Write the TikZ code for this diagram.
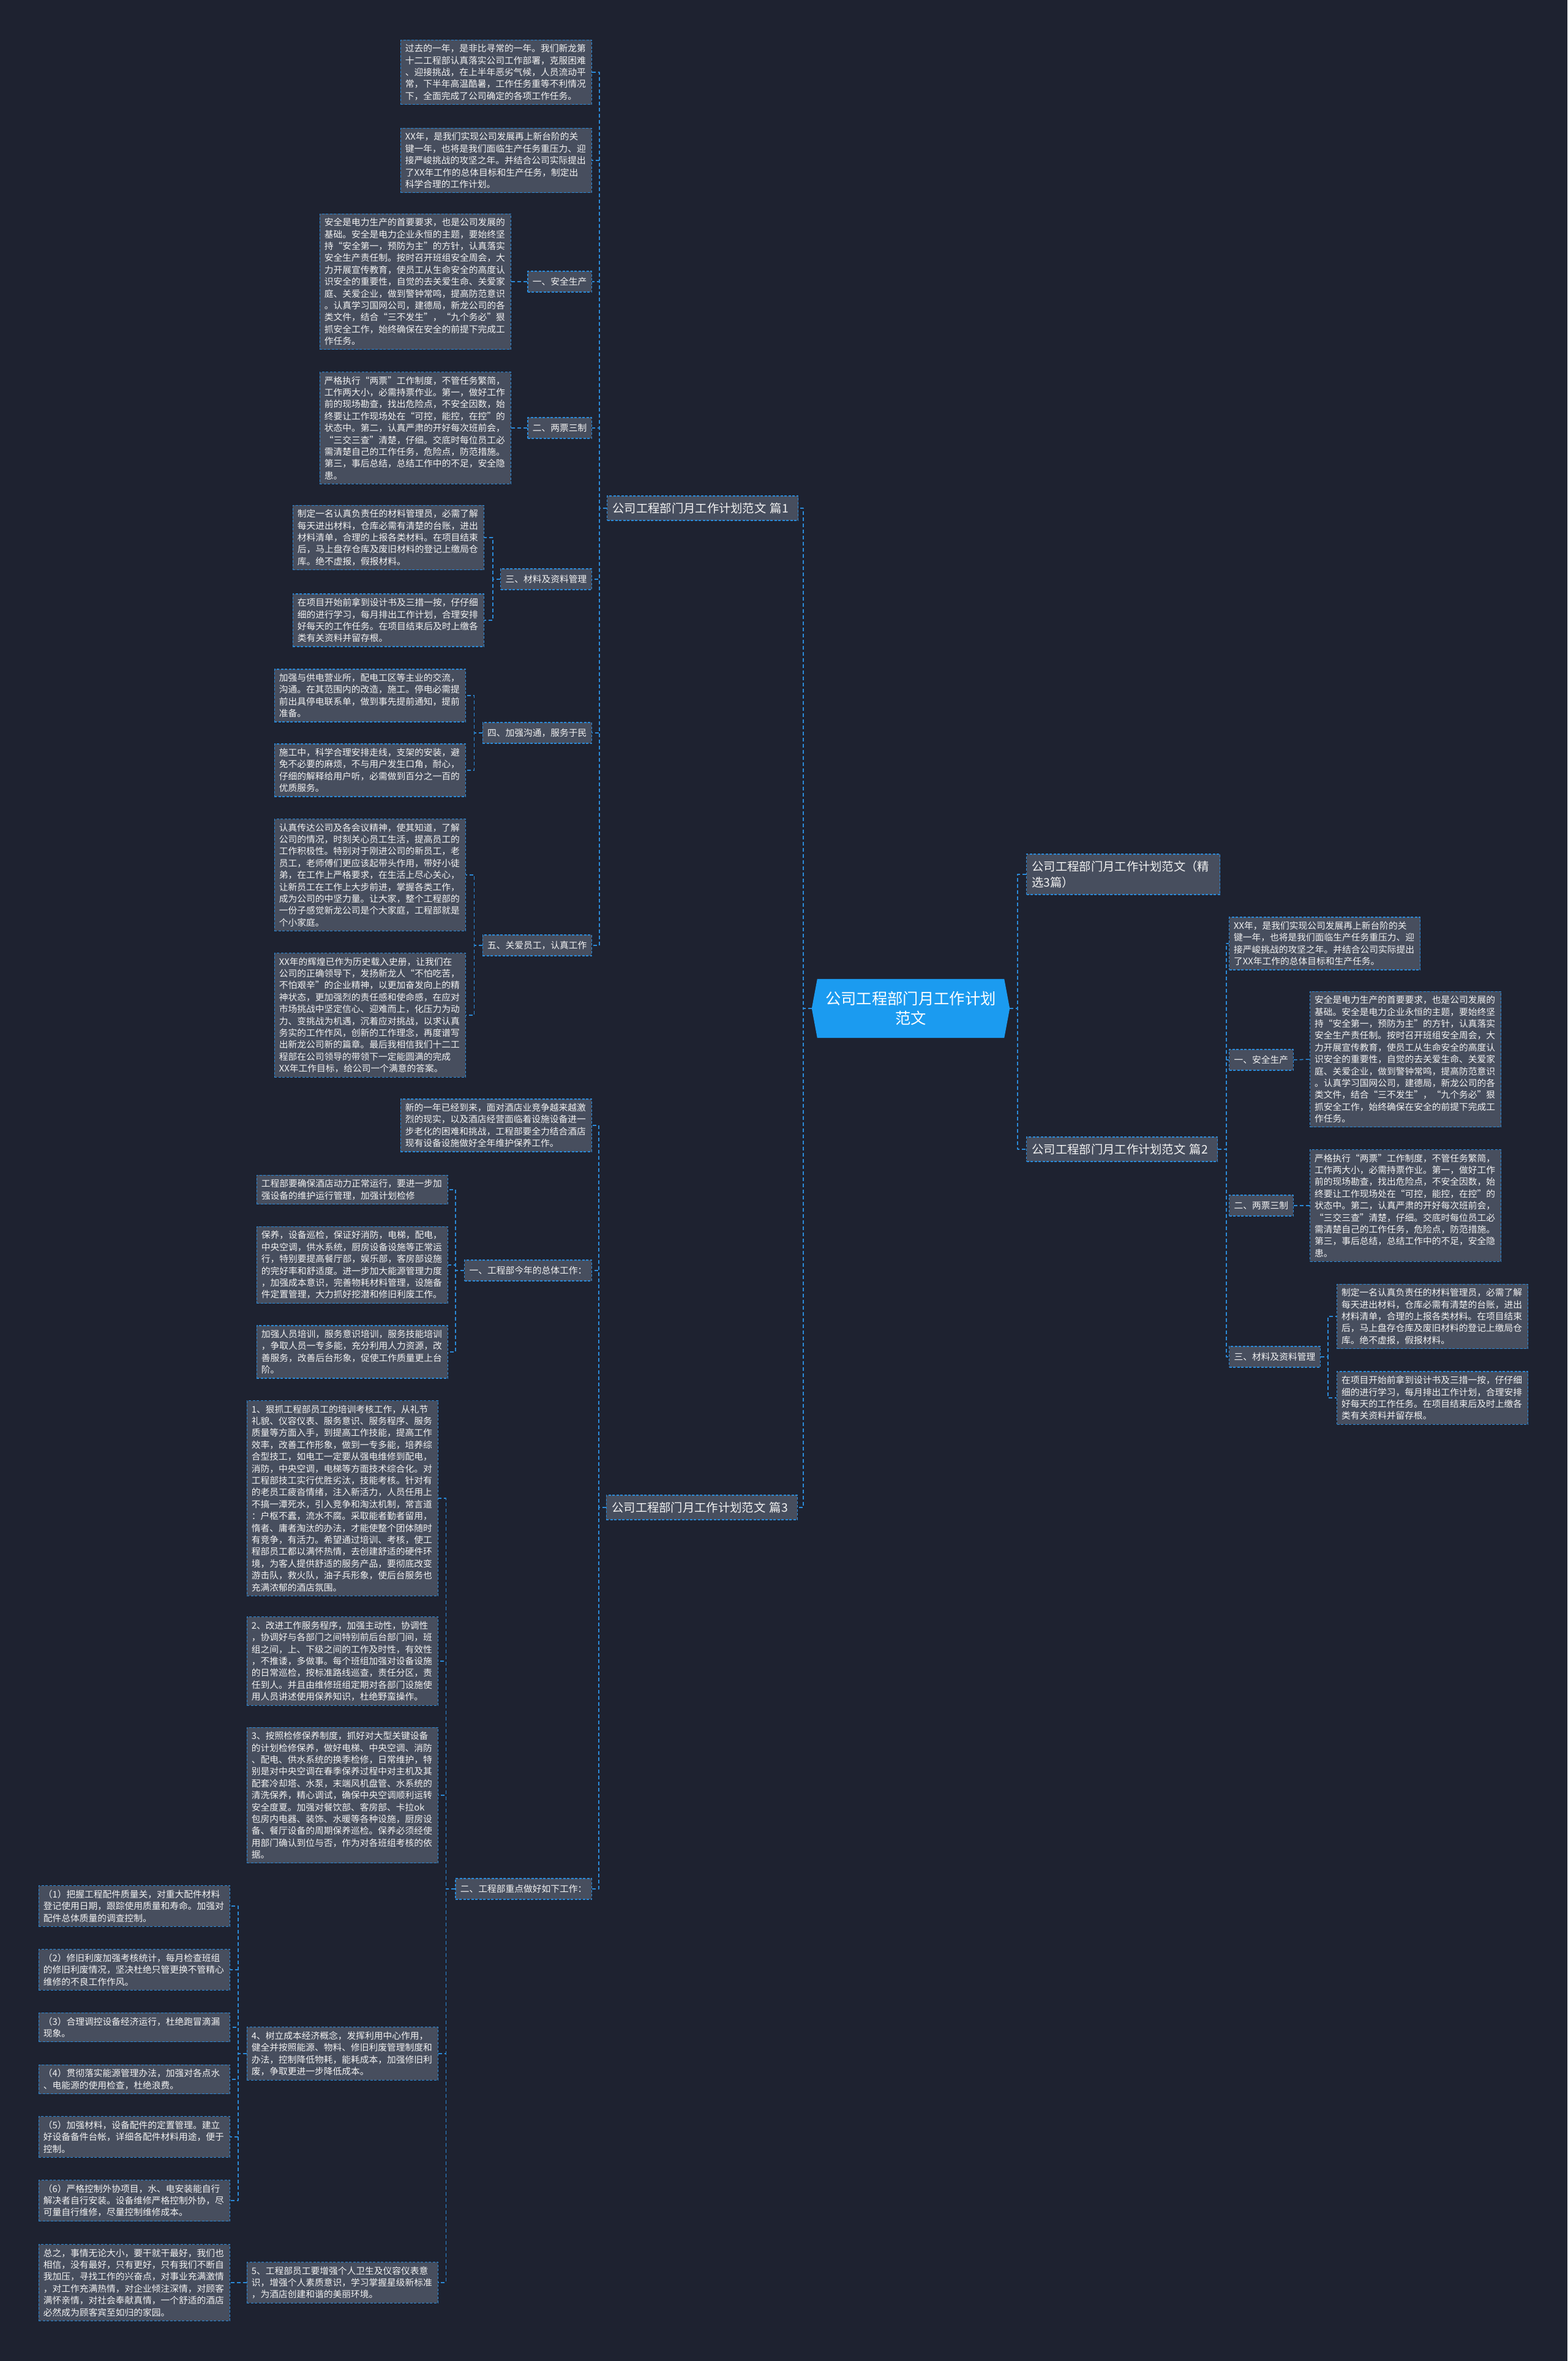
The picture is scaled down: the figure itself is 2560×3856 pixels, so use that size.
\documentclass[tikz,border=0pt]{standalone}
\usepackage{fontspec}
\setmainfont{Noto Sans CJK SC}
\usetikzlibrary{backgrounds}
\definecolor{bgcol}{HTML}{1E2230}
\definecolor{boxcol}{HTML}{474E5E}
\definecolor{linecol}{HTML}{2B8AD8}
\definecolor{hubcol}{HTML}{1B9BF0}
\definecolor{txtcol}{HTML}{F2F2F2}
\begin{document}
\begin{tikzpicture}[x=1pt,y=-1pt,line join=round]
	\tikzset{box/.style={draw=linecol,fill=boxcol,line width=1.2pt,dash pattern=on 4pt off 2.5pt,text=txtcol,font=\fontsize{14.75}{19.4}\selectfont,text width=297pt,align=left,inner xsep=7.5pt,inner ysep=7pt},
		lbl/.style={draw=linecol,fill=boxcol,line width=1.2pt,dash pattern=on 4pt off 2.5pt,text=txtcol,font=\fontsize{14.75}{19.4}\selectfont,inner xsep=8pt,inner ysep=0pt,minimum height=34pt},
		pian/.style={draw=linecol,fill=boxcol,line width=1.2pt,dash pattern=on 4pt off 2.5pt,text=txtcol,font=\fontsize{19.3}{25.7}\selectfont,text width=294pt,align=left,inner xsep=9pt,inner ysep=11pt},
		hub/.style={text=white,font=\fontsize{25.3}{32}\selectfont,align=center,minimum width=323pt,minimum height=96pt,inner sep=0pt},
		link/.style={draw=linecol,line width=1.5pt,dash pattern=on 6pt off 4pt}}
	\def\anquan{安全是电力生产的首要要求，也是公司发展的\\基础。安全是电力企业永恒的主题，要始终坚\\持“安全第一，预防为主”的方针，认真落实\\安全生产责任制。按时召开班组安全周会，大\\力开展宣传教育，使员工从生命安全的高度认\\识安全的重要性，自觉的去关爱生命、关爱家\\庭、关爱企业，做到警钟常鸣，提高防范意识\\。认真学习国网公司，建德局，新龙公司的各\\类文件，结合“三不发生”，“九个务必”狠\\抓安全工作，始终确保在安全的前提下完成工\\作任务。}
	\def\liangpiao{严格执行“两票”工作制度，不管任务繁简，\\工作两大小，必需持票作业。第一，做好工作\\前的现场勘查，找出危险点，不安全因数，始\\终要让工作现场处在“可控，能控，在控”的\\状态中。第二，认真严肃的开好每次班前会，\\“三交三查”清楚，仔细。交底时每位员工必\\需清楚自己的工作任务，危险点，防范措施。\\第三，事后总结，总结工作中的不足，安全隐\\患。}
	\def\cailiao{制定一名认真负责任的材料管理员，必需了解\\每天进出材料，仓库必需有清楚的台账，进出\\材料清单，合理的上报各类材料。在项目结束\\后，马上盘存仓库及废旧材料的登记上缴局仓\\库。绝不虚报，假报材料。}
	\def\ziliao{在项目开始前拿到设计书及三措一按，仔仔细\\细的进行学习，每月排出工作计划，合理安排\\好每天的工作任务。在项目结束后及时上缴各\\类有关资料并留存根。}
	\useasboundingbox (0,0) rectangle (2560,3856);
	% center
	\node[hub] (hub) at (1487.5,1647) {公司工程部门月工作计划\\范文};
	\begin{pgfonlayer}{background}
		\fill[bgcol] (0,0) rectangle (2560,3856);
		\fill[hubcol] (hub.west) -- ([xshift=9pt]hub.north west) -- ([xshift=-9pt]hub.north east) -- (hub.east) -- ([xshift=-9pt]hub.south east) -- ([xshift=9pt]hub.south west) -- cycle;
	\end{pgfonlayer}
	% right
	\node[pian,anchor=west,text width=298pt] (jingxuan) at (1676,1428) {公司工程部门月工作计划范文（精\\选3篇）};
	\node[pian,anchor=west] (pian2) at (1676,1877) {公司工程部门月工作计划范文 篇2};
	\node[box,anchor=west] (t2a) at (2007,1541) {XX年，是我们实现公司发展再上新台阶的关\\键一年，也将是我们面临生产任务重压力、迎\\接严峻挑战的攻坚之年。并结合公司实际提出\\了XX年工作的总体目标和生产任务。};
	\node[lbl,anchor=west] (r1) at (2007,1731) {一、安全生产};
	\node[box,anchor=west] (r1t) at (2139,1730) {\anquan};
	\node[lbl,anchor=west] (r2) at (2007,1969) {二、两票三制};
	\node[box,anchor=west] (r2t) at (2139,1969) {\liangpiao};
	\node[lbl,anchor=west] (r3) at (2007,2216) {三、材料及资料管理};
	\node[box,anchor=west] (r3a) at (2183,2150) {\cailiao};
	\node[box,anchor=west] (r3b) at (2183,2283) {\ziliao};
	% left, part 1
	\node[pian,anchor=west] (pian1) at (991,830) {公司工程部门月工作计划范文 篇1};
	\node[box,anchor=east] (t1a) at (967,118) {过去的一年，是非比寻常的一年。我们新龙第\\十二工程部认真落实公司工作部署，克服困难\\、迎接挑战，在上半年恶劣气候，人员流动平\\常，下半年高温酷暑，工作任务重等不利情况\\下，全面完成了公司确定的各项工作任务。};
	\node[box,anchor=east] (t1b) at (967,262) {XX年，是我们实现公司发展再上新台阶的关\\键一年，也将是我们面临生产任务重压力、迎\\接严峻挑战的攻坚之年。并结合公司实际提出\\了XX年工作的总体目标和生产任务，制定出\\科学合理的工作计划。};
	\node[lbl,anchor=east] (s1) at (967,460) {一、安全生产};
	\node[box,anchor=east] (s1t) at (835,460) {\anquan};
	\node[lbl,anchor=east] (s2) at (967,699) {二、两票三制};
	\node[box,anchor=east] (s2t) at (835,699) {\liangpiao};
	\node[lbl,anchor=east] (s3) at (967,946) {三、材料及资料管理};
	\node[box,anchor=east] (s3a) at (791,878) {\cailiao};
	\node[box,anchor=east] (s3b) at (791,1013) {\ziliao};
	\node[lbl,anchor=east] (s4) at (967,1197) {四、加强沟通，服务于民};
	\node[box,anchor=east] (s4a) at (761,1136) {加强与供电营业所，配电工区等主业的交流，\\沟通。在其范围内的改造，施工。停电必需提\\前出具停电联系单，做到事先提前通知，提前\\准备。};
	\node[box,anchor=east] (s4b) at (761,1258) {施工中，科学合理安排走线，支架的安装，避\\免不必要的麻烦，不与用户发生口角，耐心，\\仔细的解释给用户听，必需做到百分之一百的\\优质服务。};
	\node[lbl,anchor=east] (s5) at (967,1544) {五、关爱员工，认真工作};
	\node[box,anchor=east] (s5a) at (761,1429) {认真传达公司及各会议精神，使其知道，了解\\公司的情况，时刻关心员工生活，提高员工的\\工作积极性。特别对于刚进公司的新员工，老\\员工，老师傅们更应该起带头作用，带好小徒\\弟，在工作上严格要求，在生活上尽心关心，\\让新员工在工作上大步前进，掌握各类工作，\\成为公司的中坚力量。让大家，整个工程部的\\一份子感觉新龙公司是个大家庭，工程部就是\\个小家庭。};
	\node[box,anchor=east] (s5b) at (761,1658) {XX年的辉煌已作为历史载入史册，让我们在\\公司的正确领导下，发扬新龙人“不怕吃苦，\\不怕艰辛”的企业精神，以更加奋发向上的精\\神状态，更加强烈的责任感和使命感，在应对\\市场挑战中坚定信心、迎难而上，化压力为动\\力、变挑战为机遇，沉着应对挑战，以求认真\\务实的工作作风，创新的工作理念，再度谱写\\出新龙公司新的篇章。最后我相信我们十二工\\程部在公司领导的带领下一定能圆满的完成\\XX年工作目标，给公司一个满意的答案。};
	% left, part 3
	\node[pian,anchor=east] (pian3) at (1303,2462) {公司工程部门月工作计划范文 篇3};
	\node[box,anchor=east] (t3a) at (967,1838) {新的一年已经到来，面对酒店业竞争越来越激\\烈的现实，以及酒店经营面临着设施设备进一\\步老化的困难和挑战，工程部要全力结合酒店\\现有设备设施做好全年维护保养工作。};
	\node[lbl,anchor=east] (s31) at (967,2075) {一、工程部今年的总体工作：};
	\node[box,anchor=east] (s31a) at (732,1943) {工程部要确保酒店动力正常运行，要进一步加\\强设备的维护运行管理，加强计划检修};
	\node[box,anchor=east] (s31b) at (732,2066) {保养，设备巡检，保证好消防，电梯，配电，\\中央空调，供水系统，厨房设备设施等正常运\\行，特别要提高餐厅部，娱乐部，客房部设施\\的完好率和舒适度。进一步加大能源管理力度\\，加强成本意识，完善物耗材料管理，设施备\\件定置管理，大力抓好挖潜和修旧利废工作。};
	\node[box,anchor=east] (s31c) at (732,2208) {加强人员培训，服务意识培训，服务技能培训\\，争取人员一专多能，充分利用人力资源，改\\善服务，改善后台形象，促使工作质量更上台\\阶。};
	\node[lbl,anchor=east] (s32) at (967,3085) {二、工程部重点做好如下工作：};
	\node[box,anchor=east] (item1) at (716,2447) {1、狠抓工程部员工的培训考核工作，从礼节\\礼貌、仪容仪表、服务意识、服务程序、服务\\质量等方面入手，到提高工作技能，提高工作\\效率，改善工作形象，做到一专多能，培养综\\合型技工，如电工一定要从强电维修到配电，\\消防，中央空调，电梯等方面技术综合化。对\\工程部技工实行优胜劣汰，技能考核。针对有\\的老员工疲沓情绪，注入新活力，人员任用上\\不搞一潭死水，引入竞争和淘汰机制，常言道\\：户枢不蠹，流水不腐。采取能者勤者留用，\\惰者、庸者淘汰的办法，才能使整个团体随时\\有竞争，有活力。希望通过培训、考核，使工\\程部员工都以满怀热情，去创建舒适的硬件环\\境，为客人提供舒适的服务产品，要彻底改变\\游击队，救火队，油子兵形象，使后台服务也\\充满浓郁的酒店氛围。};
	\node[box,anchor=east] (item2) at (716,2713) {2、改进工作服务程序，加强主动性，协调性\\，协调好与各部门之间特别前后台部门间，班\\组之间，上、下级之间的工作及时性，有效性\\，不推诿，多做事。每个班组加强对设备设施\\的日常巡检，按标准路线巡查，责任分区，责\\任到人。并且由维修班组定期对各部门设施使\\用人员讲述使用保养知识，杜绝野蛮操作。};
	\node[box,anchor=east] (item3) at (716,2932) {3、按照检修保养制度，抓好对大型关键设备\\的计划检修保养，做好电梯、中央空调、消防\\、配电、供水系统的换季检修，日常维护，特\\别是对中央空调在春季保养过程中对主机及其\\配套冷却塔、水泵，末端风机盘管、水系统的\\清洗保养，精心调试，确保中央空调顺利运转\\安全度夏。加强对餐饮部、客房部、卡拉ok\\包房内电器、装饰、水暖等各种设施，厨房设\\备、餐厅设备的周期保养巡检。保养必须经使\\用部门确认到位与否，作为对各班组考核的依\\据。};
	\node[box,anchor=east] (item4) at (716,3354) {4、树立成本经济概念，发挥利用中心作用，\\健全并按照能源、物料、修旧利废管理制度和\\办法，控制降低物耗，能耗成本，加强修旧利\\废，争取更进一步降低成本。};
	\node[box,anchor=east] (item5) at (716,3728) {5、工程部员工要增强个人卫生及仪容仪表意\\识，增强个人素质意识，学习掌握星级新标准\\，为酒店创建和谐的美丽环境。};
	\node[box,anchor=east] (c1) at (376,3113) {（1）把握工程配件质量关，对重大配件材料\\登记使用日期，跟踪使用质量和寿命。加强对\\配件总体质量的调查控制。};
	\node[box,anchor=east] (c2) at (376,3217) {（2）修旧利废加强考核统计，每月检查班组\\的修旧利废情况，坚决杜绝只管更换不管精心\\维修的不良工作作风。};
	\node[box,anchor=east] (c3) at (376,3311) {（3）合理调控设备经济运行，杜绝跑冒滴漏\\现象。};
	\node[box,anchor=east] (c4) at (376,3396) {（4）贯彻落实能源管理办法，加强对各点水\\、电能源的使用检查，杜绝浪费。};
	\node[box,anchor=east] (c5) at (376,3490) {（5）加强材料，设备配件的定置管理。建立\\好设备备件台帐，详细各配件材料用途，便于\\控制。};
	\node[box,anchor=east] (c6) at (376,3594) {（6）严格控制外协项目，水、电安装能自行\\解决者自行安装。设备维修严格控制外协，尽\\可量自行维修，尽量控制维修成本。};
	\node[box,anchor=east] (zongzhi) at (376,3728) {总之，事情无论大小，要干就干最好，我们也\\相信，没有最好，只有更好，只有我们不断自\\我加压，寻找工作的兴奋点，对事业充满激情\\，对工作充满热情，对企业倾注深情，对顾客\\满怀亲情，对社会奉献真情，一个舒适的酒店\\必然成为顾客宾至如归的家园。};
	% connectors
	\foreach \c in {pian1,pian3} \draw[link] (hub.west) -- ++(-14,0) |- (\c.east);
	\foreach \c in {jingxuan,pian2} \draw[link] (hub.east) -- ++(13,0) |- (\c.west);
	\foreach \c in {t2a,r1,r2,r3} \draw[link] (pian2.east) -- ++(14,0) |- (\c.west);
	\draw[link] (r1.east) -- (r1t.west);
	\draw[link] (r2.east) -- (r2t.west);
	\foreach \c in {r3a,r3b} \draw[link] (r3.east) -- ++(12,0) |- (\c.west);
	\foreach \c in {t1a,t1b,s1,s2,s3,s4,s5} \draw[link] (pian1.west) -- ++(-12,0) |- (\c.east);
	\draw[link] (s1.west) -- (s1t.east);
	\draw[link] (s2.west) -- (s2t.east);
	\foreach \c in {s3a,s3b} \draw[link] (s3.west) -- ++(-12,0) |- (\c.east);
	\foreach \c in {s4a,s4b} \draw[link] (s4.west) -- ++(-13,0) |- (\c.east);
	\foreach \c in {s5a,s5b} \draw[link] (s5.west) -- ++(-13,0) |- (\c.east);
	\foreach \c in {t3a,s31,s32} \draw[link] (pian3.west) -- ++(-12,0) |- (\c.east);
	\foreach \c in {s31a,s31b,s31c} \draw[link] (s31.west) -- ++(-14,0) |- (\c.east);
	\foreach \c in {item1,item2,item3,item4,item5} \draw[link] (s32.west) -- ++(-15,0) |- (\c.east);
	\foreach \c in {c1,c2,c3,c4,c5,c6} \draw[link] (item4.west) -- ++(-14,0) |- (\c.east);
	\draw[link] (item5.west) -- (zongzhi.east);
\end{tikzpicture}
\end{document}
